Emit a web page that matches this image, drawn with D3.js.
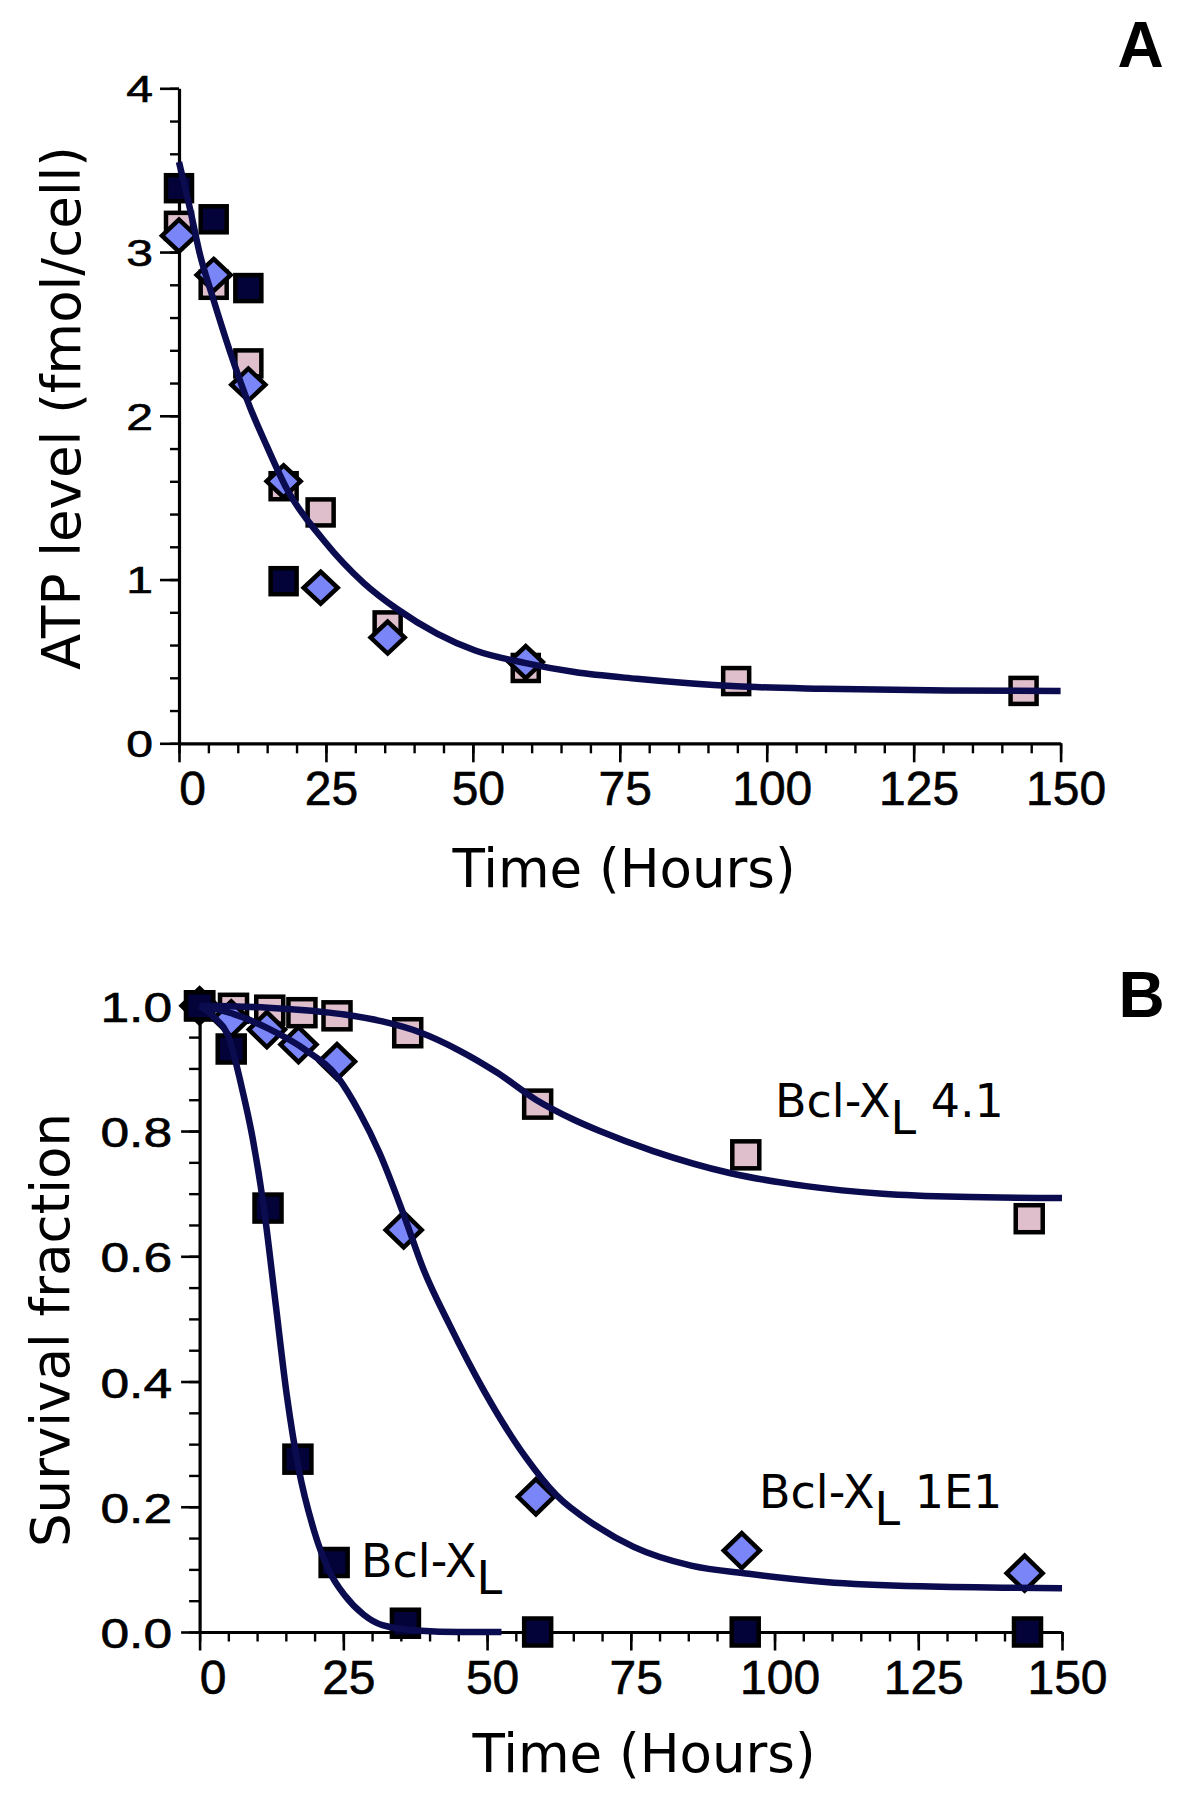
<!DOCTYPE html>
<html>
<head>
<meta charset="utf-8">
<script src="https://cdn.jsdelivr.net/npm/d3@7/dist/d3.min.js"></script>
<style>
  html, body { margin: 0; padding: 0; background: #ffffff; }
  svg { display: block; }
</style>
</head>
<body>
<svg id="chart" width="1200" height="1809"></svg>
<script>
// ---------------- DATA ----------------
// Panel A: ATP level (fmol/cell) vs time (hours)
const aBclTime   = [0, 5.9, 11.8, 17.8];
const aBclValue  = [3.39, 3.2, 2.78, 0.99];
const a41Time    = [0, 5.9, 11.8, 17.8, 24.1, 35.5, 59, 94.8, 143.7];
const a41Value   = [3.16, 2.8, 2.32, 1.57, 1.41, 0.72, 0.46, 0.38, 0.32];
const a1E1Time   = [0, 5.9, 11.8, 17.8, 24.1, 35.5, 59];
const a1E1Value  = [3.1, 2.86, 2.19, 1.6, 0.95, 0.646, 0.496];
// fitted curve
const aFitTime   = [0, 1.9, 3.6, 5.6, 8.7, 12.1, 15, 18.4, 24.6, 31.4, 37.1, 43.9, 50.4, 59, 67.3, 77.9, 94.8, 109.6, 130.7, 150];
const aFitValue  = [3.55, 3.26, 2.98, 2.74, 2.39, 2.05, 1.81, 1.55, 1.24, 0.98, 0.82, 0.67, 0.567, 0.49, 0.435, 0.394, 0.348, 0.333, 0.323, 0.32];

// Panel B: survival fraction vs time (hours)
const bBclTime   = [0, 5.5, 11.9, 17.1, 23.4, 35.8, 58.8, 94.9, 144];
const bBclValue  = [1.0, 0.931, 0.677, 0.276, 0.111, 0.014, 0.0, 0.0, 0.0];
const b1E1Time   = [0, 5.5, 11.7, 17.2, 23.9, 35.5, 58.5, 94.3, 143.5];
const b1E1Value  = [1.0, 0.979, 0.962, 0.938, 0.911, 0.642, 0.216, 0.13, 0.094];
const b41Time    = [0, 5.9, 12.2, 17.8, 23.9, 36.2, 58.8, 95, 144.3];
const b41Value   = [1.0, 0.996, 0.993, 0.989, 0.984, 0.957, 0.843, 0.762, 0.66];
// fitted curves
const bBclFitTime  = [0, 2.5, 5.2, 7.2, 9.2, 11.2, 13.2, 15.2, 17.2, 19.9, 22.5, 25.2, 28.5, 31.8, 38.5, 45, 52.5];
const bBclFitValue = [1.0, 0.982, 0.946, 0.875, 0.79, 0.676, 0.526, 0.376, 0.262, 0.162, 0.098, 0.059, 0.028, 0.011, 0.002, 0.0, 0.0];
const b1E1FitTime  = [0, 5.2, 11.9, 18.5, 24.1, 27.8, 31.3, 35.4, 38.9, 43.5, 49.3, 56.8, 62, 68.9, 75.5, 85.5, 95.5, 108.8, 125.5, 150];
const b1E1FitValue = [1.0, 0.989, 0.964, 0.929, 0.885, 0.83, 0.765, 0.669, 0.58, 0.49, 0.388, 0.278, 0.219, 0.17, 0.136, 0.106, 0.093, 0.08, 0.073, 0.07];
const b41FitTime   = [0, 11.9, 25.2, 31.8, 38.5, 45.1, 51.8, 58.5, 65.1, 69.6, 78.9, 92.2, 105.5, 118.8, 132.1, 150];
const b41FitValue  = [1.0, 0.997, 0.986, 0.975, 0.957, 0.929, 0.893, 0.85, 0.818, 0.80, 0.768, 0.733, 0.712, 0.70, 0.695, 0.693];

// Tick values / labels
const xMajorTicks = [0, 25, 50, 75, 100, 125, 150];
const xMinorTicks = d3.range(0, 151, 5);
const aYMajorTicks = [0, 1, 2, 3, 4];
const aYMinorTicks = d3.range(0, 4.0001, 0.2);
const bYMajorTicks = [0, 0.2, 0.4, 0.6, 0.8, 1.0];
const bYMinorTicks = d3.range(0, 1.0001, 0.05);

// ---------------- STYLE ----------------
const COL_DARK = "#03033a";
const COL_PINK = "#dfbfcb";
const COL_BLUE = "#7a86f8";
const COL_CURVE = "#0b0b4f";
const TICK_FONT = "'Liberation Sans', Arial, Helvetica, sans-serif";
const TITLE_FONT = "'DejaVu Sans', Verdana, sans-serif";

const svg = d3.select("#chart");

function zip(t, v) { return t.map((d, i) => [d, v[i]]); }

function drawPanel(cfg) {
  const g = svg.append("g");
  const x = cfg.x, y = cfg.y;

  // x axis minor ticks
  g.append("g")
    .attr("transform", `translate(0,${y.range()[0]})`)
    .call(d3.axisBottom(x).tickValues(xMinorTicks).tickSize(cfg.xMinor).tickFormat(""))
    .call(s => s.select(".domain").remove())
    .call(s => s.selectAll("line").attr("stroke", "#000").attr("stroke-width", 2.4));
  // x axis major ticks + labels
  const xa = g.append("g")
    .attr("transform", `translate(0,${y.range()[0]})`)
    .call(d3.axisBottom(x).tickValues(xMajorTicks).tickSize(cfg.xMajor).tickPadding(cfg.xPad).tickSizeOuter(0).tickFormat(d3.format("d")));
  xa.select(".domain").attr("stroke", "#000").attr("stroke-width", 3.2);
  xa.selectAll("line").attr("stroke", "#000").attr("stroke-width", 2.6);
  xa.selectAll("text")
    .attr("font-family", TICK_FONT).attr("font-size", 48).attr("fill", "#000")
    .attr("stroke", "#000").attr("stroke-width", 0.6)
    .attr("dx", d => d === 0 ? 13 : 5);

  // y axis minor ticks
  g.append("g")
    .attr("transform", `translate(${x.range()[0]},0)`)
    .call(d3.axisLeft(y).tickValues(cfg.yMinorTicks).tickSize(cfg.yMinor).tickFormat(""))
    .call(s => s.select(".domain").remove())
    .call(s => s.selectAll("line").attr("stroke", "#000").attr("stroke-width", 2.4));
  // y axis major ticks + labels
  const ya = g.append("g")
    .attr("transform", `translate(${x.range()[0]},0)`)
    .call(d3.axisLeft(y).tickValues(cfg.yMajorTicks).tickSize(cfg.yMajor).tickPadding(cfg.yPad).tickSizeOuter(0).tickFormat(cfg.yFormat));
  ya.select(".domain").attr("stroke", "#000").attr("stroke-width", 3.2);
  ya.selectAll("line").attr("stroke", "#000").attr("stroke-width", 2.6);
  const off = cfg.yMajor + cfg.yPad;
  ya.selectAll("text")
    .attr("font-family", TICK_FONT).attr("font-size", cfg.yFont).attr("fill", "#000")
    .attr("stroke", "#000").attr("stroke-width", 0.6)
    .attr("x", 0).attr("dy", "0.36em")
    .attr("transform", `translate(${-off},0) scale(${cfg.yStretch},1)`);

  // markers
  const mk = g.append("g");
  cfg.series.forEach(s => {
    const pts = zip(s.t, s.v);
    if (s.shape === "square") {
      mk.append("g").selectAll("rect").data(pts).join("rect")
        .attr("x", d => x(d[0]) - s.size / 2)
        .attr("y", d => y(d[1]) - s.size / 2)
        .attr("width", s.size).attr("height", s.size)
        .attr("fill", s.fill).attr("stroke", "#000").attr("stroke-width", 4.5);
    } else {
      mk.append("g").selectAll("path").data(pts).join("path")
        .attr("d", d => {
          const cx = x(d[0]), cy = y(d[1]), hw = s.hw, hh = s.hh;
          return `M${cx},${cy - hh}L${cx + hw},${cy}L${cx},${cy + hh}L${cx - hw},${cy}Z`;
        })
        .attr("fill", s.fill).attr("stroke", "#000").attr("stroke-width", 4.5)
        .attr("stroke-linejoin", "miter");
    }
  });

  // fitted curves on top
  const line = d3.line().x(d => x(d[0])).y(d => y(d[1])).curve(d3.curveMonotoneX);
  cfg.curves.forEach(c => {
    g.append("path").datum(zip(c.t, c.v))
      .attr("d", line).attr("fill", "none")
      .attr("stroke", COL_CURVE).attr("stroke-width", 6.5)
      .attr("stroke-linecap", "butt");
  });
  return g;
}

// ---------------- PANEL A ----------------
const xA = d3.scaleLinear().domain([0, 150]).range([179, 1060.6]);
const yA = d3.scaleLinear().domain([0, 4]).range([743.3, 88.3]);
drawPanel({
  x: xA, y: yA,
  xMajor: 19, xMinor: 10, xPad: 9,
  yMajor: 19, yMinor: 9, yPad: 7,
  yMajorTicks: aYMajorTicks, yMinorTicks: aYMinorTicks,
  yFormat: d3.format("d"), yFont: 37, yStretch: 1.3,
  series: [
    { t: a41Time, v: a41Value, shape: "square", fill: COL_PINK, size: 26 },
    { t: a1E1Time, v: a1E1Value, shape: "diamond", fill: COL_BLUE, hw: 17, hh: 16 },
    { t: aBclTime, v: aBclValue, shape: "square", fill: COL_DARK, size: 26 }
  ],
  curves: [ { t: aFitTime, v: aFitValue } ]
});

// ---------------- PANEL B ----------------
const xB = d3.scaleLinear().domain([0, 150]).range([199.6, 1062]);
const yB = d3.scaleLinear().domain([0, 1]).range([1632, 1005.8]);
drawPanel({
  x: xB, y: yB,
  xMajor: 18.5, xMinor: 9.5, xPad: 9.5,
  yMajor: 18.5, yMinor: 10.5, yPad: 9,
  yMajorTicks: bYMajorTicks, yMinorTicks: bYMinorTicks,
  yFormat: d3.format(".1f"), yFont: 43, yStretch: 1.2,
  series: [
    { t: b41Time, v: b41Value, shape: "square", fill: COL_PINK, size: 27 },
    { t: b1E1Time, v: b1E1Value, shape: "diamond", fill: COL_BLUE, hw: 18, hh: 17.5 },
    { t: bBclTime, v: bBclValue, shape: "square", fill: COL_DARK, size: 27 }
  ],
  curves: [
    { t: b41FitTime, v: b41FitValue },
    { t: b1E1FitTime, v: b1E1FitValue },
    { t: bBclFitTime, v: bBclFitValue }
  ]
});

// ---------------- TEXT ----------------
function title(x, y, txt, rot) {
  svg.append("text")
    .attr("transform", `translate(${x},${y})` + (rot ? " rotate(-90)" : ""))
    .attr("text-anchor", "middle")
    .attr("font-family", TITLE_FONT).attr("font-size", 53).attr("fill", "#000")
    .text(txt);
}
title(624, 887, "Time (Hours)", false);
title(644, 1772, "Time (Hours)", false);
title(80, 408, "ATP level (fmol/cell)", true);
title(69, 1330, "Survival fraction", true);

// panel letters
svg.append("text").attr("x", 1140.5).attr("y", 66.7).attr("text-anchor", "middle")
  .attr("font-family", "'Liberation Sans', Arial, sans-serif").attr("font-weight", "bold")
  .attr("font-size", 64).attr("fill", "#000").text("A");
svg.append("text").attr("x", 1141.5).attr("y", 1017.3).attr("text-anchor", "middle")
  .attr("font-family", "'Liberation Sans', Arial, sans-serif").attr("font-weight", "bold")
  .attr("font-size", 64).attr("fill", "#000").text("B");

// series labels with subscript L
function seriesLabel(x, y, suffix) {
  const t = svg.append("text").attr("x", x).attr("y", y)
    .attr("font-family", TITLE_FONT).attr("font-size", 46).attr("fill", "#000");
  t.append("tspan").text("Bcl-X");
  t.append("tspan").attr("dy", 17).text("L");
  if (suffix) t.append("tspan").attr("dy", -17).text("\u00a0" + suffix);
}
seriesLabel(361, 1577, "");
seriesLabel(775, 1116.5, "4.1");
seriesLabel(759, 1507.5, "1E1");
</script>
</body>
</html>
